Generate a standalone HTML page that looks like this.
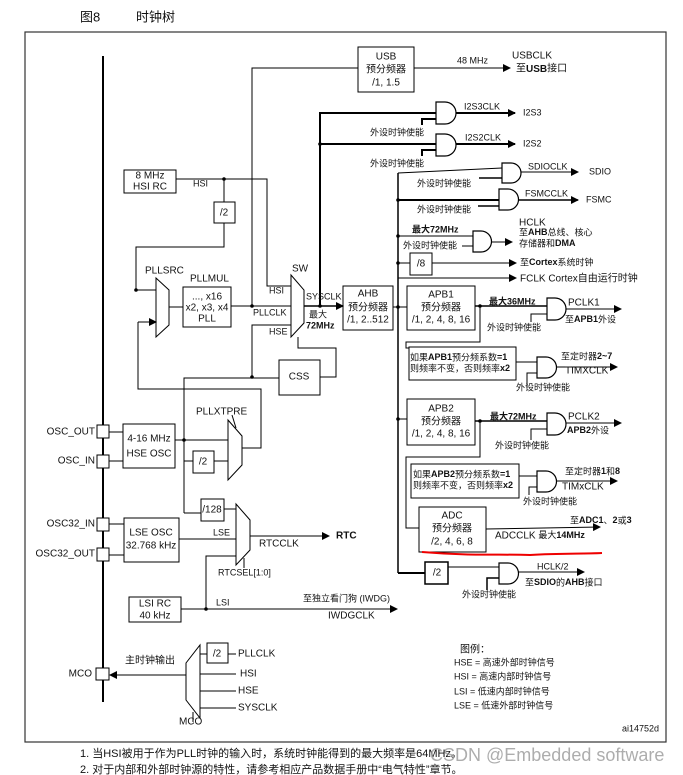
<!DOCTYPE html>
<html><head><meta charset="utf-8"><style>
body{margin:0;background:#fff;}
svg{display:block;}
text{font-family:"Liberation Sans","Noto Sans CJK SC",sans-serif;font-size:10px;fill:#111;dominant-baseline:middle;}
.b{font-weight:bold;}
.s{font-size:9px;}
</style></head><body>
<svg width="683" height="775" viewBox="0 0 683 775" xmlns="http://www.w3.org/2000/svg">
<defs><marker id="a" markerWidth="8" markerHeight="8" refX="7" refY="4" orient="auto" markerUnits="userSpaceOnUse"><path d="M0,0 L8,4 L0,8 Z" fill="#000"/></marker></defs>
<text x="80" y="18" style="font-size:13px">图8</text>
<text x="136" y="18" style="font-size:13px">时钟树</text>
<rect x="25" y="32" width="641" height="710" fill="none" stroke="#333" stroke-width="1.2"/>
<g stroke="#000" fill="none" stroke-width="1">
<line x1="103" y1="56" x2="103" y2="702" stroke-width="2"/>
<!-- USB -->
<rect x="358" y="47" width="56" height="45"/>
<polyline points="252,306 252,68 358,68"/>
<line x1="414" y1="68" x2="510" y2="68" marker-end="url(#a)"/>
<!-- SYSCLK thick trunk -->
<polyline points="320,306 320,113 436,113" stroke-width="2"/>
<line x1="320" y1="144" x2="436" y2="144" stroke-width="2"/>
<line x1="455" y1="113" x2="515" y2="113" stroke-width="2" marker-end="url(#a)"/>
<line x1="455" y1="144" x2="515" y2="144" stroke-width="2" marker-end="url(#a)"/>
<polyline points="422,125 422,119 436,119" stroke-width="2"/>
<polyline points="422,156 422,150 436,150" stroke-width="2"/>
<!-- bus -->
<line x1="398" y1="173" x2="398" y2="573" stroke-width="1.5"/>
<line x1="398" y1="173" x2="502" y2="168"/>
<line x1="479" y1="178" x2="502" y2="178" stroke-width="1.5"/>
<line x1="521" y1="172" x2="578" y2="172" marker-end="url(#a)"/>
<line x1="398" y1="200" x2="499" y2="200" stroke-width="2"/>
<line x1="478" y1="206" x2="499" y2="206" stroke-width="1.5"/>
<line x1="518" y1="200" x2="578" y2="200" stroke-width="1.5" marker-end="url(#a)"/>
<line x1="398" y1="236" x2="473" y2="236"/>
<line x1="462" y1="246" x2="473" y2="246"/>
<line x1="491" y1="242" x2="512" y2="242" marker-end="url(#a)"/>
<rect x="410" y="253" width="22" height="22"/>
<line x1="398" y1="263" x2="410" y2="263"/>
<line x1="432" y1="263" x2="516" y2="263" marker-end="url(#a)"/>
<line x1="398" y1="278" x2="516" y2="278" marker-end="url(#a)"/>
<!-- HSI RC -->
<rect x="124" y="170" width="52" height="23"/>
<polyline points="176,179 267,179 267,286 291,286"/>
<line x1="224" y1="179" x2="224" y2="202"/>
<rect x="214" y="202" width="21" height="21"/>
<polyline points="224,223 224,247 136,247 136,290 156,290"/>
<!-- PLLSRC mux -->
<polygon points="156,278 169,290 169,325 156,337"/>
<line x1="138" y1="322" x2="156" y2="322" marker-end="url(#a)"/>
<polyline points="138,322 138,389 261,389 261,448 242,448"/>
<line x1="169" y1="307" x2="183" y2="307"/>
<rect x="183" y="287" width="48" height="40"/>
<line x1="231" y1="306" x2="291" y2="306"/>
<polyline points="252,377 252,325 291,325"/>
<!-- SW mux -->
<polygon points="291,275 304,290 304,323 291,337"/>
<line x1="304" y1="306" x2="343" y2="306" stroke-width="1.5" marker-end="url(#a)"/>
<polyline points="298,337 298,348 336,348 336,377 320,377"/>
<rect x="279" y="360" width="41" height="35"/>
<polyline points="184,513 184,378 279,378"/>
<!-- AHB -->
<rect x="343" y="286" width="50" height="44"/>
<line x1="393" y1="307" x2="407" y2="307"/>
<rect x="407" y="286" width="68" height="44"/>
<line x1="475" y1="306" x2="547" y2="306" stroke-width="1.5"/>
<line x1="565" y1="309" x2="621" y2="309" marker-end="url(#a)"/>
<polyline points="531,322 531,314 547,314"/>
<polyline points="480,306 480,342 406,342 406,348 409,348"/>
<rect x="409" y="347" width="107" height="33"/>
<line x1="516" y1="362" x2="537" y2="362"/>
<polyline points="527,388 527,373 537,373"/>
<line x1="556" y1="367" x2="617" y2="367" marker-end="url(#a)"/>
<!-- APB2 -->
<line x1="398" y1="419" x2="407" y2="419"/>
<rect x="407" y="399" width="68" height="46"/>
<line x1="475" y1="421" x2="547" y2="421" stroke-width="1.5"/>
<line x1="565" y1="423" x2="621" y2="423" marker-end="url(#a)"/>
<polyline points="531,440 531,429 547,429"/>
<polyline points="480,421 480,457 406,457 406,528 419,528"/>
<rect x="411" y="464" width="108" height="34"/>
<line x1="519" y1="476" x2="537" y2="476"/>
<polyline points="529,495 529,487 537,487"/>
<line x1="557" y1="481" x2="617" y2="481" marker-end="url(#a)"/>
<rect x="419" y="507" width="67" height="45"/>
<line x1="486" y1="529" x2="600" y2="527" marker-end="url(#a)"/>
<polyline points="398,573 425,573" stroke-width="2"/>
<rect x="425" y="562" width="23" height="22" stroke-width="1.5"/>
<line x1="448" y1="567" x2="499" y2="567"/>
<polyline points="487,590 487,578 499,578" stroke-width="1.5"/>
<line x1="519" y1="572" x2="584" y2="572" marker-end="url(#a)"/>
<!-- HSE OSC -->
<rect x="97" y="425" width="12" height="13" fill="#fff"/>
<rect x="97" y="455" width="12" height="13" fill="#fff"/>
<line x1="109" y1="432" x2="123" y2="432"/>
<line x1="109" y1="461" x2="123" y2="461"/>
<rect x="123" y="424" width="52" height="44"/>
<line x1="175" y1="440" x2="228" y2="440"/>
<polyline points="184,461 193,461"/>
<rect x="193" y="451" width="21" height="22"/>
<line x1="214" y1="461" x2="228" y2="461"/>
<polygon points="228,420 242,436 242,465 228,480"/>
<line x1="232" y1="415" x2="236" y2="428"/>
<!-- RTC -->
<line x1="184" y1="513" x2="201" y2="513"/>
<rect x="201" y="499" width="23" height="22"/>
<line x1="224" y1="509" x2="236" y2="509"/>
<polygon points="236,504 250,520 250,550 236,565"/>
<line x1="244" y1="558" x2="244" y2="568"/>
<rect x="97" y="518" width="12" height="13" fill="#fff"/>
<rect x="97" y="548" width="12" height="13" fill="#fff"/>
<line x1="109" y1="524" x2="124" y2="524"/>
<line x1="109" y1="555" x2="124" y2="555"/>
<rect x="124" y="518" width="55" height="44"/>
<line x1="179" y1="539" x2="236" y2="539"/>
<line x1="250" y1="536" x2="329" y2="536" marker-end="url(#a)"/>
<polyline points="206,609 206,556 236,556"/>
<rect x="129" y="597" width="52" height="25"/>
<line x1="181" y1="609" x2="397" y2="609" marker-end="url(#a)"/>
<!-- MCO -->
<polygon points="200,645 200,718 186,700 186,663"/>
<rect x="207" y="643" width="21" height="20"/>
<line x1="200" y1="654" x2="207" y2="654"/>
<line x1="228" y1="654" x2="236" y2="654"/>
<line x1="200" y1="674" x2="236" y2="674"/>
<line x1="200" y1="691" x2="236" y2="691"/>
<line x1="200" y1="708" x2="236" y2="708"/>
<line x1="193" y1="712" x2="193" y2="722"/>
<rect x="96" y="668" width="13" height="12" fill="#fff"/>
<line x1="186" y1="675" x2="110" y2="675" marker-end="url(#a)"/>
<!-- red squiggle -->
<path d="M422,552 C470,556 500,554 530,555 C560,553 580,554 602,553" stroke="#e00" stroke-width="2"/>
</g>
<!-- gates -->
<g stroke="#000" fill="#fff" stroke-width="1.2">
<path d="M436,102 h9 a11,11 0 0 1 0,22 h-9 z"/>
<path d="M436,134 h9 a11,11 0 0 1 0,22 h-9 z"/>
<path d="M502,163 h9 a10,10 0 0 1 0,20 h-9 z"/>
<path d="M499,189 h9 a10.5,10.5 0 0 1 0,21 h-9 z"/>
<path d="M473,231 h8 a10.5,10.5 0 0 1 0,21 h-8 z"/>
<path d="M547,298 h8 a11,11 0 0 1 0,22 h-8 z"/>
<path d="M537,357 h9 a10.5,10.5 0 0 1 0,21 h-9 z"/>
<path d="M547,413 h8 a11,11 0 0 1 0,22 h-8 z"/>
<path d="M537,471 h9 a10.5,10.5 0 0 1 0,21 h-9 z"/>
<path d="M499,563 h9 a10.5,10.5 0 0 1 0,21 h-9 z"/>
</g>
<g fill="#000">
<circle cx="252" cy="306" r="1.8"/><circle cx="320" cy="306" r="1.8"/><circle cx="320" cy="144" r="1.8"/>
<circle cx="224" cy="179" r="1.8"/><circle cx="252" cy="377" r="1.8"/><circle cx="398" cy="307" r="1.8"/>
<circle cx="398" cy="200" r="1.8"/><circle cx="398" cy="236" r="1.8"/><circle cx="398" cy="263" r="1.8"/>
<circle cx="480" cy="306" r="1.8"/><circle cx="480" cy="421" r="1.8"/><circle cx="398" cy="419" r="1.8"/>
<circle cx="184" cy="440" r="1.8"/><circle cx="206" cy="609" r="1.8"/><circle cx="136" cy="290" r="1.8"/>
</g>
<g text-anchor="middle">
<text x="386" y="57">USB</text><text x="386" y="70">预分频器</text><text x="386" y="83">/1, 1.5</text>
<text x="150" y="176">8 MHz</text><text x="150" y="187">HSI RC</text>
<text x="224" y="213">/2</text>
<text x="207" y="297">..., x16</text><text x="207" y="308">x2, x3, x4</text><text x="207" y="319">PLL</text>
<text x="299" y="377">CSS</text>
<text x="368" y="294">AHB</text><text x="368" y="308">预分频器</text><text x="368" y="320">/1, 2..512</text>
<text x="441" y="295">APB1</text><text x="441" y="308">预分频器</text><text x="441" y="320">/1, 2, 4, 8, 16</text>
<text x="441" y="409">APB2</text><text x="441" y="422">预分频器</text><text x="441" y="434">/1, 2, 4, 8, 16</text>
<text x="452" y="516">ADC</text><text x="452" y="529">预分频器</text><text x="452" y="542">/2, 4, 6, 8</text>
<text x="421" y="264">/8</text><text x="437" y="573">/2</text>
<text x="149" y="439">4-16 MHz</text><text x="149" y="454">HSE OSC</text>
<text x="203" y="462">/2</text><text x="212" y="510">/128</text>
<text x="151" y="533">LSE OSC</text><text x="151" y="546">32.768 kHz</text>
<text x="155" y="604">LSI RC</text><text x="155" y="616">40 kHz</text>
<text x="217" y="654">/2</text>
</g>
<text x="457" y="61" class="s">48 MHz</text>
<text x="512" y="56">USBCLK</text><text x="516" y="69">至<tspan class="b">USB</tspan>接口</text>
<text x="464" y="107" class="s">I2S3CLK</text><text x="523" y="113" class="s">I2S3</text>
<text x="370" y="133" class="s">外设时钟使能</text>
<text x="465" y="138" class="s">I2S2CLK</text><text x="523" y="144" class="s">I2S2</text>
<text x="370" y="164" class="s">外设时钟使能</text>
<text x="528" y="167" class="s">SDIOCLK</text><text x="589" y="172" class="s">SDIO</text>
<text x="417" y="184" class="s">外设时钟使能</text>
<text x="525" y="194" class="s">FSMCCLK</text><text x="586" y="200" class="s">FSMC</text>
<text x="417" y="210" class="s">外设时钟使能</text>
<text x="412" y="230" class="s b">最大72MHz</text><text x="403" y="246" class="s">外设时钟使能</text>
<text x="519" y="223">HCLK</text><text x="519" y="233" class="s">至<tspan class="b">AHB</tspan>总线、核心</text><text x="519" y="244" class="s">存储器和<tspan class="b">DMA</tspan></text>
<text x="520" y="263" class="s">至<tspan class="b">Cortex</tspan>系统时钟</text>
<text x="520" y="279">FCLK Cortex自由运行时钟</text>
<text x="145" y="271">PLLSRC</text><text x="190" y="279">PLLMUL</text>
<text x="193" y="184" class="s">HSI</text>
<text x="292" y="269">SW</text>
<text x="269" y="291" class="s">HSI</text><text x="253" y="313" class="s">PLLCLK</text><text x="269" y="332" class="s">HSE</text>
<text x="306" y="297" class="s">SYSCLK</text><text x="309" y="315" class="s">最大</text><text x="306" y="326" class="s b">72MHz</text>
<text x="489" y="302" class="s b">最大36MHz</text><text x="568" y="303">PCLK1</text><text x="565" y="320" class="s">至<tspan class="b">APB1</tspan>外设</text>
<text x="487" y="328" class="s">外设时钟使能</text>
<text x="410" y="358" class="s">如果<tspan class="b">APB1</tspan>预分频系数<tspan class="b">=1</tspan></text>
<text x="410" y="369" class="s">则频率不变，否则频率<tspan class="b">x2</tspan></text>
<text x="561" y="357" class="s">至定时器<tspan class="b">2~7</tspan></text><text x="565" y="371">TIMXCLK</text>
<text x="516" y="388" class="s">外设时钟使能</text>
<text x="490" y="417" class="s b">最大72MHz</text><text x="568" y="417">PCLK2</text><text x="567" y="431" class="s"><tspan class="b">APB2</tspan>外设</text>
<text x="495" y="446" class="s">外设时钟使能</text>
<text x="413" y="475" class="s">如果<tspan class="b">APB2</tspan>预分频系数<tspan class="b">=1</tspan></text>
<text x="413" y="486" class="s">则频率不变，否则频率<tspan class="b">x2</tspan></text>
<text x="565" y="472" class="s">至定时器<tspan class="b">1</tspan>和<tspan class="b">8</tspan></text><text x="562" y="487">TIMxCLK</text>
<text x="523" y="502" class="s">外设时钟使能</text>
<text x="570" y="521" class="s">至<tspan class="b">ADC1</tspan>、<tspan class="b">2</tspan>或<tspan class="b">3</tspan></text>
<text x="495" y="536">ADCCLK <tspan class="s">最大</tspan><tspan class="b s">14MHz</tspan></text>
<text x="537" y="567" class="s">HCLK/2</text><text x="525" y="583" class="s">至<tspan class="b">SDIO</tspan>的<tspan class="b">AHB</tspan>接口</text>
<text x="462" y="595" class="s">外设时钟使能</text>
<text x="196" y="412">PLLXTPRE</text>
<g text-anchor="end"><text x="95" y="432">OSC_OUT</text><text x="95" y="461">OSC_IN</text>
<text x="95" y="524">OSC32_IN</text><text x="95" y="554">OSC32_OUT</text><text x="92" y="674">MCO</text></g>
<text x="213" y="533" class="s">LSE</text><text x="259" y="544">RTCCLK</text><text x="336" y="536" class="b">RTC</text>
<text x="218" y="573" class="s">RTCSEL[1:0]</text>
<text x="216" y="603" class="s">LSI</text>
<text x="303" y="599" class="s">至独立看门狗 (IWDG)</text><text x="328" y="616">IWDGCLK</text>
<text x="125" y="661">主时钟输出</text>
<text x="238" y="654">PLLCLK</text><text x="240" y="674">HSI</text><text x="238" y="691">HSE</text><text x="238" y="708">SYSCLK</text>
<text x="179" y="722">MCO</text>
<text x="460" y="650">图例：</text>
<text x="454" y="663" class="s">HSE = 高速外部时钟信号</text>
<text x="454" y="677" class="s">HSI = 高速内部时钟信号</text>
<text x="454" y="692" class="s">LSI = 低速内部时钟信号</text>
<text x="454" y="706" class="s">LSE = 低速外部时钟信号</text>
<text x="622" y="729" class="s">ai14752d</text>
<text x="80" y="754" style="font-size:11px">1.  当HSI被用于作为PLL时钟的输入时，系统时钟能得到的最大频率是64MHz。</text>
<text x="80" y="770" style="font-size:11px">2.  对于内部和外部时钟源的特性，请参考相应产品数据手册中“电气特性”章节。</text>
<text x="430" y="756" style="font-size:18px;fill:#999;opacity:0.8">CSDN @Embedded software</text>
</svg>
</body></html>
